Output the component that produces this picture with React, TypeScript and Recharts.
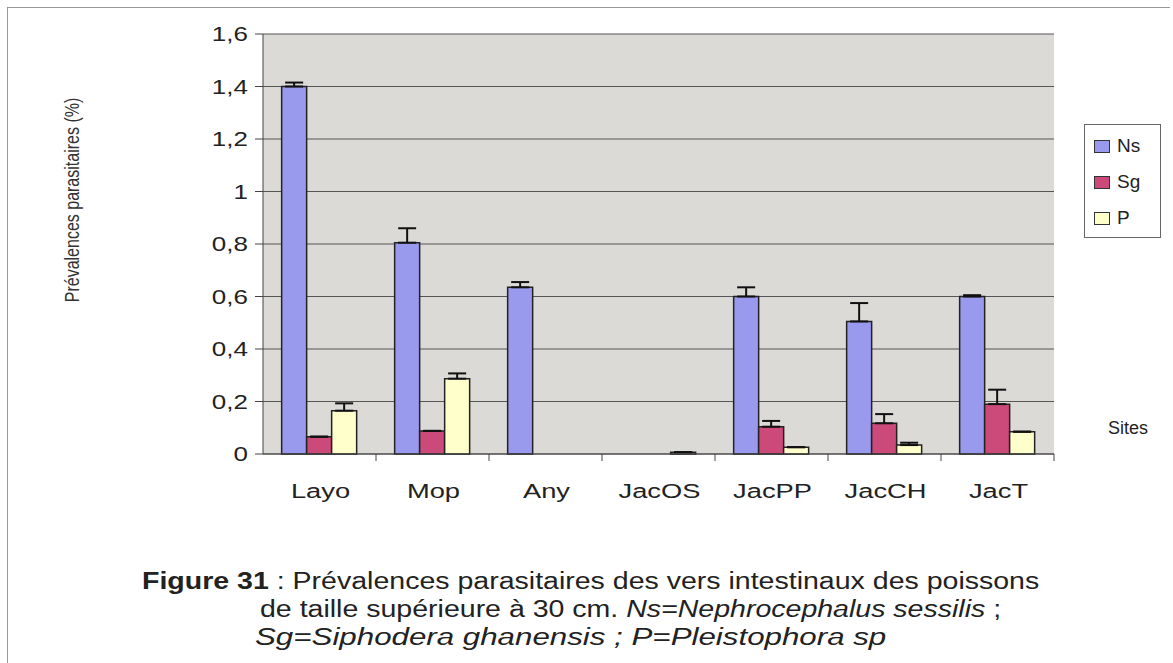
import React from "react";
import { BarChart, Bar, XAxis, YAxis, CartesianGrid, ErrorBar } from "recharts";

const sites = ["Layo", "Mop", "Any", "JacOS", "JacPP", "JacCH", "JacT"];
const ns = [1.4, 0.805, 0.635, 0, 0.6, 0.505, 0.6];
const nsErr = [0.015, 0.055, 0.02, 0, 0.035, 0.07, 0.005];
const sg = [0.066, 0.088, 0, 0, 0.104, 0.117, 0.19];
const sgErr = [0, 0, 0, 0, 0.022, 0.035, 0.055];
const p = [0.165, 0.287, 0, 0.007, 0.026, 0.034, 0.085];
const pErr = [0.028, 0.02, 0, 0, 0, 0.009, 0];
const yTicks = [0, 0.2, 0.4, 0.6, 0.8, 1, 1.2, 1.4, 1.6];

const seriesNames = ["Ns", "Sg", "P"];
const seriesColors = ["#9999ee", "#cc4a7a", "#ffffcc"];

// error bars only go up
const data = sites.map((s, i) => ({
  site: s,
  Ns: ns[i],
  nsE: [0, nsErr[i]],
  Sg: sg[i],
  sgE: [0, sgErr[i]],
  P: p[i],
  pE: [0, pErr[i]],
}));

const FONT = "'Liberation Sans', Arial, sans-serif";

const fmt = (v: number) => String(v).replace(".", ",");

// the scanned chart has horizontally stretched type
const XTick = (props: any) => {
  const { x, y, payload } = props;
  const half = payload.offset || 56.5;
  return (
    <g>
      <line x1={x + half} y1={y - 8} x2={x + half} y2={y - 1} stroke="#444" />
      <text
        transform={`translate(${x + 1},${y + 36}) scale(1.3,1)`}
        textAnchor="middle"
        fontSize={21}
        fontFamily={FONT}
        fill="#222"
      >
        {payload.value}
      </text>
    </g>
  );
};

const YTick = (props: any) => {
  const { x, y, payload } = props;
  return (
    <text
      transform={`translate(${x + 2},${y + 7}) scale(1.3,1)`}
      textAnchor="end"
      fontSize={20}
      fontFamily={FONT}
      fill="#222"
    >
      {fmt(payload.value)}
    </text>
  );
};

const txt = (left: number, top: number, sx = 1.24): React.CSSProperties => ({
  position: "absolute",
  left,
  top,
  fontFamily: FONT,
  fontSize: 23,
  color: "#222",
  whiteSpace: "nowrap",
  transform: `scaleX(${sx})`,
  transformOrigin: "left center",
});

export default function App() {
  return (
    <div style={{ position: "absolute", left: 0, top: 0, width: 1173, height: 663, background: "#fff" }}>
      <div
        style={{
          position: "absolute",
          left: 7,
          top: 7,
          width: 1162,
          height: 656,
          borderTop: "1.5px solid #999",
          borderLeft: "1.5px solid #999",
        }}
      />
      <BarChart
        width={1173}
        height={663}
        data={data}
        margin={{ top: 34, right: 119, bottom: 179, left: 203 }}
        barCategoryGap="16.5%"
        barGap={0}
      >
        <CartesianGrid vertical={false} stroke="#555" fill="#dcdad7" />
        <XAxis dataKey="site" height={30} stroke="#444" tickLine={false} tick={<XTick />} />
        <YAxis
          width={60}
          domain={[0, 1.6]}
          ticks={yTicks}
          stroke="#444"
          tickSize={8}
          tickMargin={9}
          tick={<YTick />}
        />
        <Bar dataKey="Ns" fill={seriesColors[0]} stroke="#222" strokeWidth={1.5} isAnimationActive={false}>
          <ErrorBar dataKey="nsE" width={9} stroke="#111" strokeWidth={2} direction="y" />
        </Bar>
        <Bar dataKey="Sg" fill={seriesColors[1]} stroke="#222" strokeWidth={1.5} isAnimationActive={false}>
          <ErrorBar dataKey="sgE" width={9} stroke="#111" strokeWidth={2} direction="y" />
        </Bar>
        <Bar dataKey="P" fill={seriesColors[2]} stroke="#222" strokeWidth={1.5} isAnimationActive={false}>
          <ErrorBar dataKey="pE" width={9} stroke="#111" strokeWidth={2} direction="y" />
        </Bar>
      </BarChart>
      <div
        style={{
          position: "absolute",
          left: 1084,
          top: 124,
          width: 77,
          height: 114,
          boxSizing: "border-box",
          border: "1px solid #666",
          background: "#fff",
          paddingTop: 3,
          paddingLeft: 9,
          fontFamily: FONT,
          fontSize: 19,
          color: "#222",
        }}
      >
        {seriesNames.map((n, i) => (
          <div key={n} style={{ height: 36, display: "flex", alignItems: "center" }}>
            <span
              style={{
                display: "inline-block",
                width: 14,
                height: 11,
                background: seriesColors[i],
                border: "1px solid #333",
                marginRight: 7,
              }}
            />
            {n}
          </div>
        ))}
      </div>
      <div
        style={{
          position: "absolute",
          left: 72,
          top: 200,
          transform: "translate(-50%, -50%) rotate(-90deg) scaleX(0.8)",
          whiteSpace: "nowrap",
          fontFamily: FONT,
          fontSize: 20,
          color: "#333",
        }}
      >
        Prévalences parasitaires (%)
      </div>
      <div style={{ position: "absolute", left: 1108, top: 418, fontFamily: FONT, fontSize: 18, color: "#222" }}>
        Sites
      </div>
      <div style={txt(142, 568)}>
        <b>Figure 31</b> : Prévalences parasitaires des vers intestinaux des poissons
      </div>
      <div style={txt(260, 596)}>
        de taille supérieure à 30 cm. <i>Ns=Nephrocephalus sessilis</i> ;
      </div>
      <div style={txt(255, 624, 1.36)}>
        <i>Sg=Siphodera ghanensis ; P=Pleistophora sp</i>
      </div>
    </div>
  );
}
